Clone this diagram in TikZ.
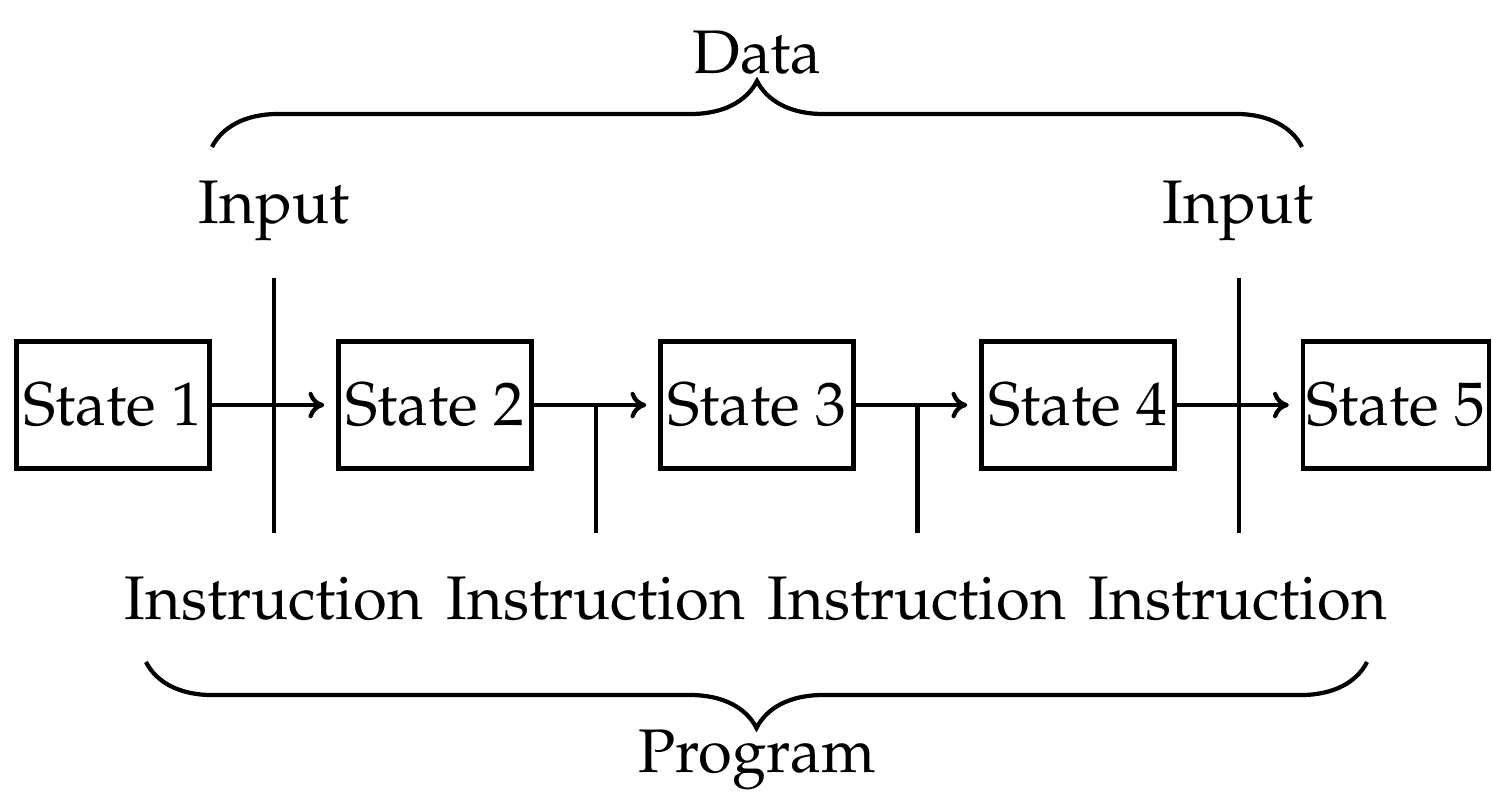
\documentclass[tikz,border=0pt]{standalone}
\usepackage[T1]{fontenc}
\renewcommand{\rmdefault}{ppl}
\usetikzlibrary{arrows.meta,decorations.pathreplacing,calc}
\begin{document}
\begin{tikzpicture}[x=0.01cm,y=-0.01cm,
  every node/.style={font=\fontsize{17.5}{21}\selectfont},
  statebox/.style={draw, line width=1.2pt, minimum width=1.93cm, minimum height=1.27cm, inner sep=0pt},
  flow/.style={line width=1.2pt, -{To[length=4.5pt,width=7.5pt]}, shorten >=0.12cm},
  tick/.style={line width=1.2pt},
  lbl/.style={inner sep=0pt, anchor=base},
  brace/.style={decorate, decoration={brace, amplitude=0.66cm}, line width=1.2pt},
  mbrace/.style={decorate, decoration={brace, mirror, amplitude=0.66cm}, line width=1.2pt}]
\useasboundingbox (0,0) rectangle (1493,805);

% states
\node[statebox] (s1) at (113,405) {State 1};
\node[statebox] (s2) at (435,405) {State 2};
\node[statebox] (s3) at (757,405) {State 3};
\node[statebox] (s4) at (1078,405) {State 4};
\node[statebox, minimum width=1.86cm] (s5) at (1396,405) {State 5};

% junctions
\coordinate (j1) at ($(s1.east)!0.5!(s2.west)$);
\coordinate (j2) at ($(s2.east)!0.5!(s3.west)$);
\coordinate (j3) at ($(s3.east)!0.5!(s4.west)$);
\coordinate (j4) at ($(s4.east)!0.5!(s5.west)$);

\coordinate (t1) at ($(j1)+(0,-127)$);
\coordinate (b1) at ($(j1)+(0,128)$);
\coordinate (b2) at ($(j2)+(0,128)$);
\coordinate (b3) at ($(j3)+(0,128)$);
\coordinate (t4) at ($(j4)+(0,-127)$);
\coordinate (b4) at ($(j4)+(0,128)$);

% instruction / input lines
\draw[tick] (t1) -- (b1);
\draw[tick] (j2) -- (b2);
\draw[tick] (j3) -- (b3);
\draw[tick] (t4) -- (b4);

% arrows
\draw[flow] (s1) -- (s2);
\draw[flow] (s2) -- (s3);
\draw[flow] (s3) -- (s4);
\draw[flow] (s4) -- (s5);

% labels
\node[lbl] (in1) at (274,223) {Input};
\node[lbl] (in2) at (1238,223) {Input};
\node[lbl] (i1) at (274,619) {Instruction};
\node[lbl] (i2) at (596,619) {Instruction};
\node[lbl] (i3) at (917,619) {Instruction};
\node[lbl] (i4) at (1238,619) {Instruction};
\node[lbl] (data) at (757,73) {Data};
\node[lbl] (prog) at (757,772) {Program};

% braces
\coordinate (dl) at (212,147);
\coordinate (dr) at (1302,147);
\coordinate (pl) at (146,662);
\coordinate (pr) at (1367,662);
\draw[brace] (dl) -- (dr);
\draw[mbrace] (pl) -- (pr);
\end{tikzpicture}
\end{document}
